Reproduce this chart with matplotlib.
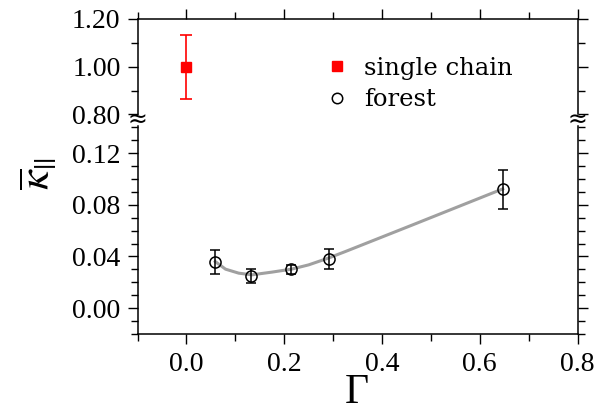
import matplotlib
matplotlib.use("Agg")
import matplotlib.pyplot as plt
from matplotlib.lines import Line2D
from matplotlib.ticker import MultipleLocator, FormatStrFormatter

# ---- data ----
single_x = [0.0]
single_y = [1.00]
single_err = [0.135]

forest_x = [0.059, 0.133, 0.214, 0.291, 0.647]
forest_y = [0.036, 0.025, 0.030, 0.038, 0.092]
forest_err = [0.0093, 0.0053, 0.0035, 0.0080, 0.0150]

# gray guide curve
curve_x = [0.059, 0.080, 0.107, 0.134, 0.175, 0.215, 0.250, 0.290, 0.325, 0.465, 0.647]
curve_y = [0.0361, 0.0302, 0.0271, 0.0258, 0.0279, 0.0302, 0.0335, 0.0387, 0.0438, 0.0648, 0.0923]

legend_labels = ["single chain", "forest"]

plt.rcParams['mathtext.fontset'] = 'stix'
plt.rcParams['font.family'] = ['Liberation Serif', 'DejaVu Serif']
W, H = 607, 413
fig = plt.figure(figsize=(W / 100, H / 100), dpi=100)

left, right = 137.5 / W, 577.5 / W
ax_top = fig.add_axes([left, 1 - 114.4 / H, right - left, (114.4 - 19) / H])
ax_bot = fig.add_axes([left, 1 - 334 / H, right - left, (334 - 126) / H])

for ax in (ax_top, ax_bot):
    ax.set_xlim(-0.1, 0.8)
    ax.xaxis.set_major_locator(MultipleLocator(0.2))
    ax.xaxis.set_minor_locator(MultipleLocator(0.1))
    for sp in ax.spines.values():
        sp.set_linewidth(1.1)
    ax.tick_params(which='major', direction='out', length=7.2, width=1.0, pad=5,
                   labelsize=20, labelfontfamily='Liberation Serif')
    ax.tick_params(which='minor', direction='out', length=5, width=1.0)

# top axes
ax_top.set_ylim(0.80, 1.20)
ax_top.yaxis.set_major_locator(MultipleLocator(0.2))
ax_top.yaxis.set_minor_locator(MultipleLocator(0.1))
ax_top.yaxis.set_major_formatter(FormatStrFormatter('%.2f'))
ax_top.spines['bottom'].set_visible(False)
ax_top.tick_params(which='both', bottom=False, labelbottom=False, top=True,
                   right=True, labelright=False)

# bottom axes
ax_bot.set_ylim(-0.02, 0.141)
ax_bot.yaxis.set_major_locator(MultipleLocator(0.04))
ax_bot.yaxis.set_minor_locator(MultipleLocator(0.01))
ax_bot.yaxis.set_major_formatter(FormatStrFormatter('%.2f'))
ax_bot.xaxis.set_major_formatter(FormatStrFormatter('%.1f'))
ax_bot.spines['top'].set_visible(False)
ax_bot.tick_params(which='both', top=False, right=True, labelright=False)
ax_bot.tick_params(axis='x', which='major', pad=6)

# data
ax_top.errorbar(single_x, single_y, yerr=single_err, fmt='s', color='#ff0000',
                ms=7.7, capsize=4, elinewidth=1.2, capthick=1.2, clip_on=False)

ax_bot.plot(curve_x, curve_y, color='#a0a0a0', lw=2.2, zorder=1)
ax_bot.errorbar(forest_x, forest_y, yerr=forest_err, fmt='o', mfc='none', mec='black',
                ecolor='black', ms=8, mew=1.1, capsize=3.6, elinewidth=1.1, capthick=1.1,
                zorder=3)

# legend
handles = [Line2D([], [], marker='s', color='#ff0000', ls='none', ms=7),
           Line2D([], [], marker='o', mfc='none', mec='black', ls='none', ms=7.5, mew=1.1)]
ax_top.legend(handles, legend_labels, loc='center left',
              bbox_to_anchor=(313 / W, 1 - 84 / H), bbox_transform=fig.transFigure,
              frameon=False, prop=dict(family='DejaVu Serif', size=17.5),
              handlelength=1.0, handletextpad=0.6, labelspacing=0.35, borderpad=0)

# break marks
for xpix in (137.5, 577.5):
    fig.text(xpix / W, 1 - 120 / H, '\u2248', ha='center', va='center',
             fontsize=17, family='DejaVu Sans')

# axis labels
fig.text(357 / W, 1 - 403 / H, '\u0393', ha='center', va='baseline',
         fontsize=30, family='Liberation Serif')
fig.text(38 / W, 1 - 174 / H, r'$\overline{\kappa}_{||}$', rotation=90,
         ha='center', va='center', fontsize=32)

fig.savefig('out.png', dpi=100)
